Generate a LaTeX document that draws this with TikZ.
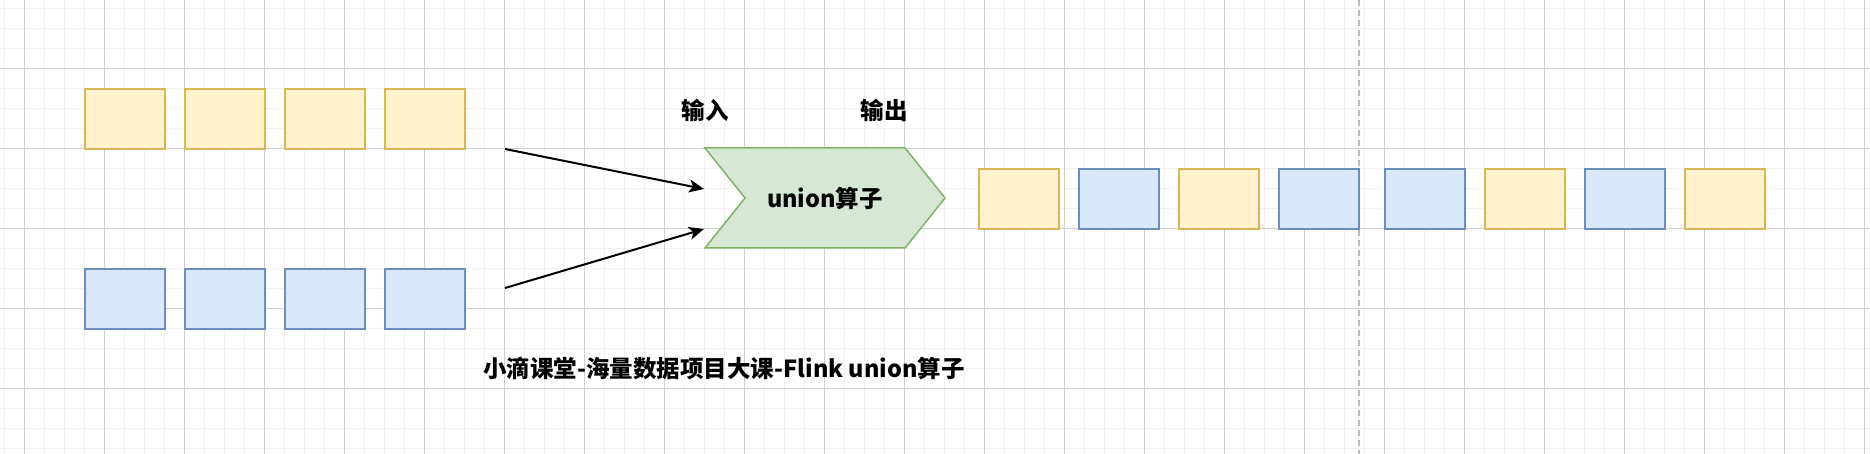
\documentclass[tikz,border=0pt]{standalone}
\usepackage{fontspec}
\setmainfont{Noto Sans CJK SC}
\usetikzlibrary{arrows.meta}

\definecolor{gridmajor}{HTML}{D0D0D0}
\definecolor{gridminor}{HTML}{F1F1F1}
\definecolor{yelfill}{HTML}{FFF2CC}
\definecolor{yeldraw}{HTML}{D6B656}
\definecolor{bluefill}{HTML}{DAE8FC}
\definecolor{bluedraw}{HTML}{6C8EBF}
\definecolor{opfill}{HTML}{D5E8D4}
\definecolor{opdraw}{HTML}{82B366}

\tikzset{
  elem/.style={rectangle, minimum width=80pt, minimum height=60pt, inner sep=0pt, line width=2pt},
  yel/.style={elem, fill=yelfill, draw=yeldraw},
  blu/.style={elem, fill=bluefill, draw=bluedraw},
  lbl/.style={font=\bfseries\fontsize{23.5}{28}\selectfont, inner sep=0pt},
  flow/.style={line width=2pt, -{Stealth[length=15pt,width=13pt,inset=4pt]}}
}

\begin{document}
\begin{tikzpicture}[x=1pt, y=-1pt]
    \useasboundingbox (0,0) rectangle (1870,454);
    \fill[white] (0,0) rectangle (1870,454);

    % grid
    \foreach \x in {0,...,93}
      \draw[gridminor, line width=1.3pt] (4.3+20*\x,0) -- (4.3+20*\x,454);
    \foreach \y in {0,...,22}
      \draw[gridminor, line width=1.3pt] (0,8.3+20*\y) -- (1870,8.3+20*\y);
    \foreach \x in {0,...,23}
      \draw[gridmajor, line width=1pt] (24.3+80*\x,0) -- (24.3+80*\x,454);
    \foreach \y in {-1,...,5}
      \draw[gridmajor, line width=1pt] (0,68.3+80*\y) -- (1870,68.3+80*\y);
    \draw[gridmajor!90!black, line width=2pt, dash pattern=on 6pt off 4pt] (1359,0) -- (1359,454);

    % input streams
    \foreach \i in {1,...,4} {
      \node[yel] (a\i) at (25+100*\i,119) {};
      \node[blu] (b\i) at (25+100*\i,299) {};
    }

    % operator
    \draw[fill=opfill, draw=opdraw, line width=1.5pt]
      (705,148) -- (905,148) -- (945,198) -- (905,248) -- (705,248) -- (745,198) -- cycle;
    \node[lbl] (op) at (825,198) {union算子};
    \node[lbl] (in) at (705,110) {输入};
    \node[lbl] (out) at (884,110) {输出};

    \coordinate (s1) at (505,149);
    \coordinate (s2) at (505,288);
    \coordinate (e1) at (704,189);
    \coordinate (e2) at (704,229);
    \draw[flow] (s1) -- (e1);
    \draw[flow] (s2) -- (e2);

    % output stream
    \node[yel] (o1) at (1019,199) {};
    \node[blu] (o2) at (1119,199) {};
    \node[yel] (o3) at (1219,199) {};
    \node[blu] (o4) at (1319,199) {};
    \node[blu] (o5) at (1425,199) {};
    \node[yel] (o6) at (1525,199) {};
    \node[blu] (o7) at (1625,199) {};
    \node[yel] (o8) at (1725,199) {};

    \node[lbl] (title) at (724,368) {小滴课堂-海量数据项目大课-Flink union算子};
\end{tikzpicture}
\end{document}
